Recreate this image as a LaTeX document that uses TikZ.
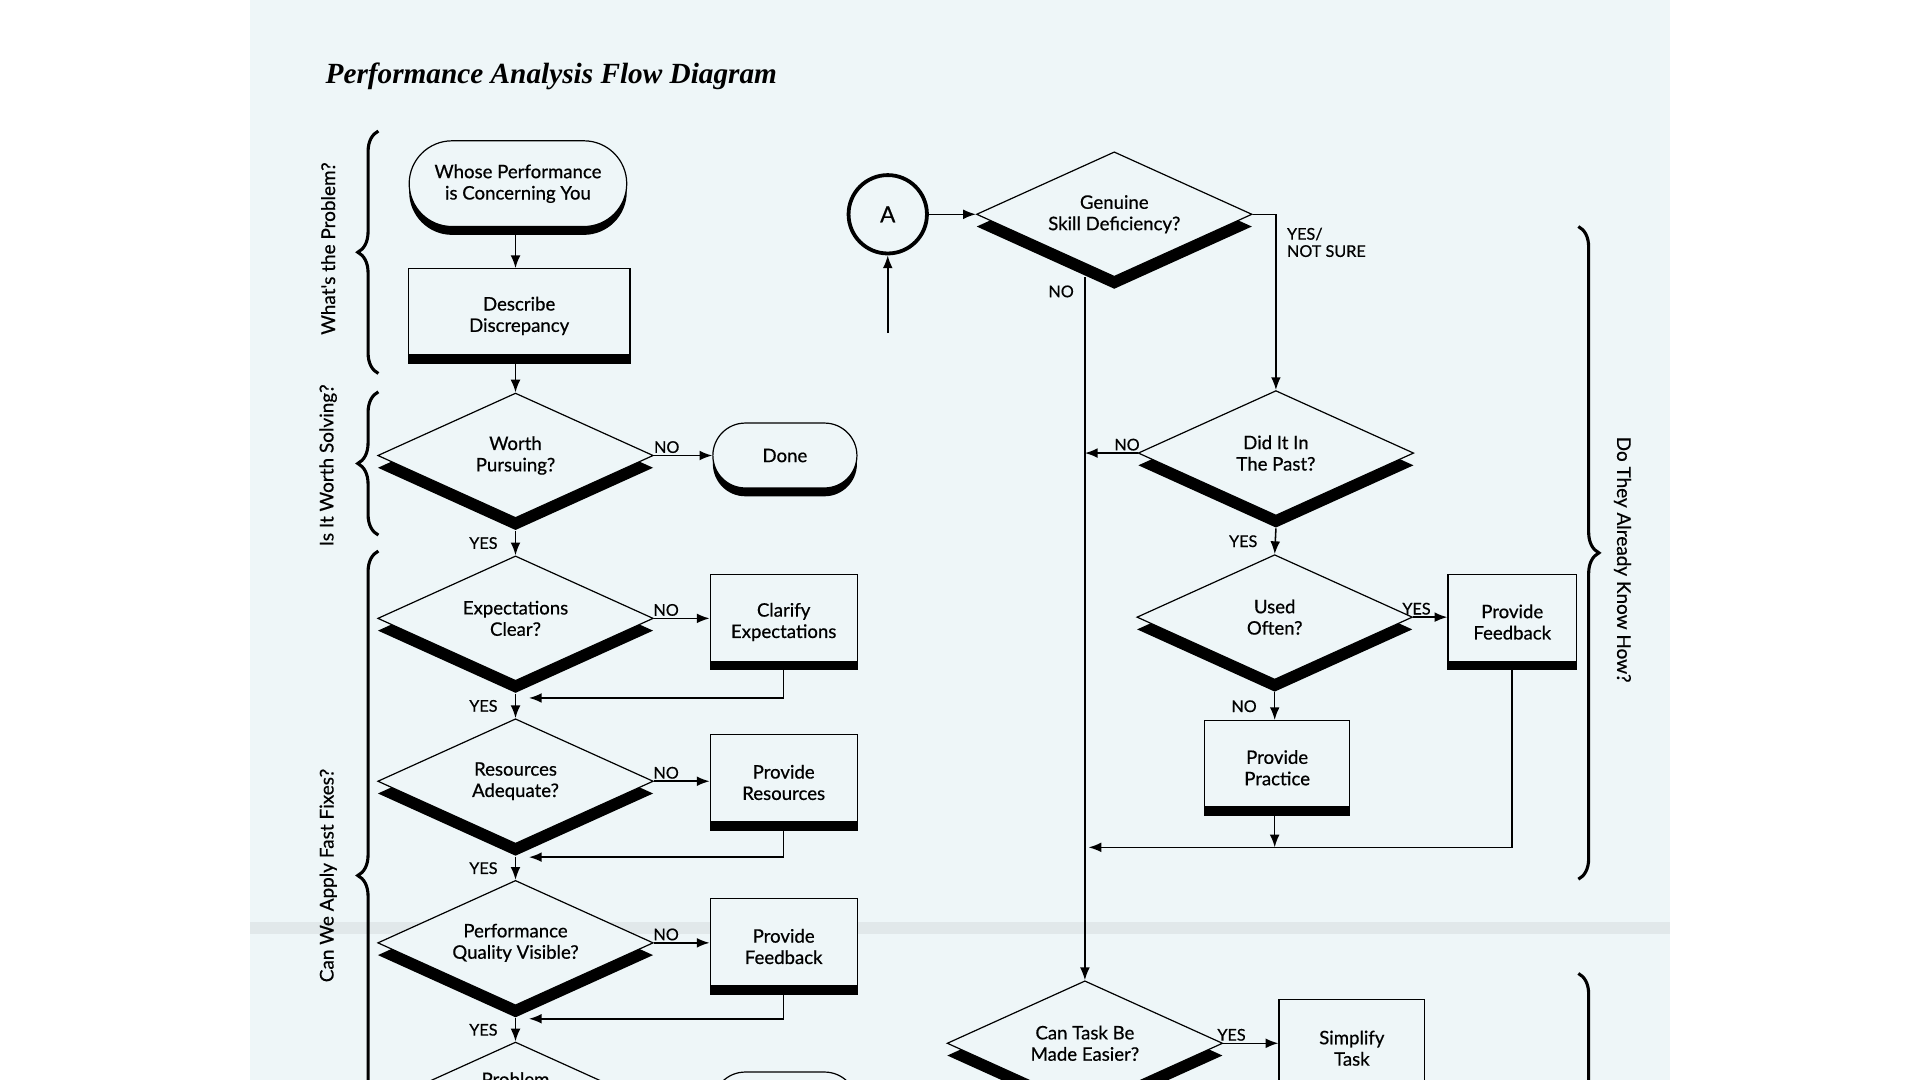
\documentclass[tikz,border=0pt]{standalone}
\usepackage{fontspec}
\setsansfont{Lato}
\newfontfamily\nodefamily{Lato}[FakeBold=0.6]
\newfontfamily\titlefont{Liberation Serif}
\usetikzlibrary{shapes.geometric,shapes.misc,shadows,arrows.meta,decorations.pathreplacing}
\definecolor{paper}{RGB}{238,246,248}
\newcommand{\boxfont}{\nodefamily\fontsize{10.8}{12.4}\selectfont}
\newcommand{\ansfont}{\nodefamily\fontsize{9.4}{10}\selectfont}
\tikzset{
  terminal/.style={rounded rectangle, draw, fill=paper, line width=0.7pt, align=center, font=\boxfont,
    drop shadow={shadow xshift=0pt, shadow yshift=-0.17cm, fill=black, opacity=1}},
  decision/.style={diamond, draw, fill=paper, line width=0.7pt, align=center, font=\boxfont, inner sep=0pt,
    aspect=2.2, minimum width=5.625cm, minimum height=2.55cm,
    drop shadow={shadow xshift=0pt, shadow yshift=-0.25cm, fill=black, opacity=1}},
  process/.style={rectangle, draw, fill=paper, line width=0.7pt, align=center, font=\boxfont, inner sep=0pt,
    path picture={\fill[black] (path picture bounding box.south west) rectangle ([yshift=0.18cm]path picture bounding box.south east);}},
  answer/.style={font=\ansfont, inner sep=1pt},
  topic/.style={font=\nodefamily\fontsize{11}{12}\selectfont},
  bracket/.style={decorate, decoration={brace, amplitude=0.42cm}, line width=1.8pt},
  flow/.style={->, line width=0.9pt}
}
\begin{document}
\begin{tikzpicture}[x=0.025cm, y=-0.025cm, >={Latex[length=2.6mm,width=2mm]}]
\clip (0,0) rectangle (1568,882);
\fill[white] (0,0) rectangle (1568,882);
\fill[paper] (204,0) rectangle (1364,882);
% fold of the sheet
\fill[gray!12!paper] (204,753) rectangle (1364,763);

\node[anchor=west, font=\titlefont\bfseries\itshape\fontsize{17}{20}\selectfont] (title) at (261,62) {Performance Analysis Flow Diagram};

% left column
\node[terminal, minimum width=4.675cm, minimum height=1.75cm] (whose) at (423,150) {Whose Performance\\is Concerning You};
\node[process, minimum width=4.525cm, minimum height=1.925cm] (describe) at (424,258) {Describe\\Discrepancy};
\node[decision] (worth) at (421,372) {Worth\\Pursuing?};
\node[terminal, minimum width=3.175cm, minimum height=1.325cm] (done) at (641,372) {Done};
\node[decision] (expect) at (421,505) {Expectations\\Clear?};
\node[process, minimum width=3cm, minimum height=1.95cm] (clarify) at (640,508) {Clarify\\Expectations};
\node[decision] (resources) at (421,638) {Resources\\Adequate?};
\node[process, minimum width=3cm, minimum height=1.95cm] (provres) at (640,639) {Provide\\Resources};
\node[decision] (visible) at (421,770) {Performance\\Quality Visible?};
\node[process, minimum width=3cm, minimum height=1.95cm] (provfb) at (640,773) {Provide\\Feedback};
\node[decision] (problem) at (421,902) {Problem\\[0.6cm]\mbox{}};
\node[terminal, minimum width=3.175cm, minimum height=1.325cm] (stop) at (641,902) {};

\coordinate (back1) at (432,570);
\coordinate (back2) at (432,700);
\coordinate (back3) at (432,832);

\draw[flow] ([yshift=-0.17cm]whose.south -| worth.north) -- (describe.north -| worth.north);
\draw[flow] (describe.south -| worth.north) -- (worth.north);
\draw[flow] (worth.east) -- node[answer, above, pos=0.22] {NO} (worth.east -| done.west);
\draw[flow] ([yshift=-0.25cm]worth.south) -- node[answer, left=9pt] {YES} (expect.north);
\draw[flow] (expect.east) -- node[answer, above, pos=0.22] {NO} (expect.east -| clarify.west);
\draw[flow] (clarify.south) |- (back1);
\draw[flow] ([yshift=-0.25cm]expect.south) -- node[answer, left=9pt] {YES} (resources.north);
\draw[flow] (resources.east) -- node[answer, above, pos=0.22] {NO} (resources.east -| provres.west);
\draw[flow] (provres.south) |- (back2);
\draw[flow] ([yshift=-0.25cm]resources.south) -- node[answer, left=9pt] {YES} (visible.north);
\draw[flow] (visible.east) -- node[answer, above, pos=0.22] {NO} (visible.east -| provfb.west);
\draw[flow] (provfb.south) |- (back3);
\draw[flow] ([yshift=-0.25cm]visible.south) -- node[answer, left=9pt] {YES} (problem.north);

% right column
\node[circle, draw, line width=2.2pt, minimum size=1.6cm, font=\nodefamily\fontsize{13}{14}\selectfont] (a) at (725,175) {A};
\node[decision] (skill) at (910,175) {Genuine\\Skill Deficiency?};
\node[decision] (past) at (1042,370) {Did It In\\The Past?};
\node[decision] (used) at (1041,504) {Used\\Often?};
\node[process, minimum width=2.625cm, minimum height=1.95cm] (fbknow) at (1235,508) {Provide\\Feedback};
\node[process, minimum width=2.95cm, minimum height=1.925cm] (practice) at (1043,627) {Provide\\Practice};
\node[decision] (easier) at (886,852) {Can Task Be\\Made Easier?};
\node[process, minimum width=2.975cm, minimum height=1.975cm] (simplify) at (1104,856) {Simplify\\Task};

\coordinate (afrom) at (725,272);
\coordinate (merge) at (889,692);

\draw[flow] (afrom) -- (a.south);
\draw[flow] (a.east) -- (skill.west);
\draw[flow] (skill.east) -| node[answer, pos=0.58, right=5pt, align=left] {YES/\\NOT SURE} (past.north);
\draw[flow] (skill.south -| easier.north) -- node[answer, pos=0.02, left=5pt] {NO} (easier.north);
\draw[flow] (past.west) -- node[answer, above, pos=0.2] {NO} (past.west -| easier.north);
\draw[flow] ([yshift=-0.25cm]past.south) -- node[answer, left=9pt] {YES} (used.north);
\draw[flow] (used.east) -- node[answer, above, pos=0.1] {YES} (used.east -| fbknow.west);
\draw[flow] ([yshift=-0.25cm]used.south) -- node[answer, left=9pt] {NO} (used.south |- practice.north);
\draw[flow] (used.south |- practice.south) -- (used.south |- merge);
\draw[flow] (fbknow.south) |- (merge);
\draw[flow] (easier.east) -- node[answer, above, pos=0.15] {YES} (easier.east -| simplify.west);

% braces
\draw[bracket] (309,305) -- (309,107);
\node[topic, rotate=90] (q1) at (268,203) {What's the Problem?};
\draw[bracket] (309,437) -- (309,320);
\node[topic, rotate=90] (q2) at (268,380) {Is It Worth Solving?};
\draw[bracket] (309,980) -- (309,450);
\node[topic, rotate=90] (q3) at (268,715) {Can We Apply Fast Fixes?};
\draw[bracket] (1289,185) -- (1289,718);
\node[topic, rotate=-90] (q4) at (1325,457) {Do They Already Know How?};
\draw[bracket] (1289,795) -- (1289,1330);

\end{tikzpicture}
\end{document}
